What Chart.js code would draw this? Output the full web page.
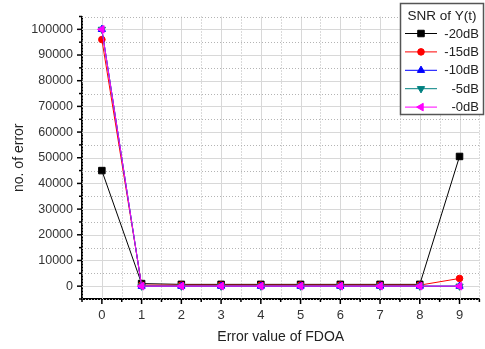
<!DOCTYPE html>
<html>
<head>
<meta charset="utf-8">
<script src="https://cdn.jsdelivr.net/npm/chart.js@4.4.0/dist/chart.umd.min.js"></script>
<style>
  html, body { margin: 0; padding: 0; background: #fff; }
  #wrap { width: 485px; height: 349px; }
</style>
</head>
<body>
<div id="wrap"><canvas id="errChart" width="485" height="349"></canvas></div>
<script>
// data
const fdoaErr = [0, 1, 2, 3, 4, 5, 6, 7, 8, 9];
const snrM20 = [45000, 1000, 700, 700, 700, 700, 700, 700, 700, 50500];
const snrM15 = [96000, 400, 400, 400, 400, 400, 400, 400, 400, 3000];
const snrM10 = [100000, 0, 0, 0, 0, 0, 0, 0, 0, 0];
const snrM5 = [100000, 0, 0, 0, 0, 0, 0, 0, 0, 0];
const snrM0 = [100000, 0, 0, 0, 0, 0, 0, 0, 0, 0];
const seriesNames = ['-20dB', '-15dB', '-10dB', '-5dB', '-0dB'];
const legendTitle = 'SNR of Y(t)';
const xTicks = [0, 1, 2, 3, 4, 5, 6, 7, 8, 9];
const yTicks = [0, 10000, 20000, 30000, 40000, 50000, 60000, 70000, 80000, 90000, 100000];

const FONT = '"Liberation Sans", Arial, sans-serif';

function pts(arr) {
    return arr.map((v, i) => ({ x: fdoaErr[i], y: v }));
}

function mkSet(label, values, color, style, rot, radius, order) {
    return {
        label: label,
        data: pts(values),
        borderColor: color,
        backgroundColor: color,
        borderWidth: 1,
        pointStyle: style,
        rotation: rot,
        pointRadius: radius,
        pointBorderWidth: 1,
        tension: 0,
        order: order
    };
}

const datasets = [
    mkSet(seriesNames[0], snrM20, '#000000', 'rect', 0, 4.6, 5),
    mkSet(seriesNames[1], snrM15, '#ff0000', 'circle', 0, 3.3, 4),
    mkSet(seriesNames[2], snrM10, '#0000ff', 'triangle', 0, 4.2, 3),
    mkSet(seriesNames[3], snrM5, '#008080', 'triangle', 180, 4.2, 2),
    mkSet(seriesNames[4], snrM0, '#ff00ff', 'triangle', -90, 4.4, 1)
];

// grid lines: solid at major steps, dotted at the halves
const gridPlugin = {
    id: 'originGrid',
    beforeDatasetsDraw(chart) {
        const { ctx, chartArea: a, scales } = chart;
        const xs = scales.x, ys = scales.y;
        ctx.save();
        ctx.lineWidth = 1;
        for (let v = -0.5; v <= 9.5; v += 0.5) {
            const px = Math.round(xs.getPixelForValue(v)) + 0.5;
            const major = Number.isInteger(v);
            ctx.strokeStyle = major ? '#d8d8d8' : '#b4b4b4';
            ctx.setLineDash(major ? [] : [1, 2]);
            ctx.beginPath();
            ctx.moveTo(px, a.top);
            ctx.lineTo(px, a.bottom);
            ctx.stroke();
        }
        for (let v = -5000; v <= 105000; v += 5000) {
            const py = Math.round(ys.getPixelForValue(v)) + 0.5;
            const major = v % 10000 === 0;
            ctx.strokeStyle = major ? '#d8d8d8' : '#b4b4b4';
            ctx.setLineDash(major ? [] : [1, 2]);
            ctx.beginPath();
            ctx.moveTo(a.left, py);
            ctx.lineTo(a.right, py);
            ctx.stroke();
        }
        ctx.restore();
    },
    afterDraw(chart) {
        const { ctx, chartArea: a, scales } = chart;
        const xs = scales.x, ys = scales.y;
        ctx.save();
        ctx.strokeStyle = '#000';
        ctx.lineWidth = 1.5;
        for (let v = -0.5; v <= 9.5; v += 0.5) {
            const px = xs.getPixelForValue(v);
            const len = Number.isInteger(v) ? 5 : 3;
            ctx.beginPath();
            ctx.moveTo(px, a.bottom);
            ctx.lineTo(px, a.bottom + len);
            ctx.stroke();
        }
        for (let v = -5000; v <= 105000; v += 5000) {
            const py = ys.getPixelForValue(v);
            const len = v % 10000 === 0 ? 5 : 3;
            ctx.beginPath();
            ctx.moveTo(a.left, py);
            ctx.lineTo(a.left - len, py);
            ctx.stroke();
        }
        ctx.restore();
    }
};

// legend box in the top right corner
const legendPlugin = {
    id: 'boxLegend',
    afterDraw(chart) {
        const ctx = chart.ctx;
        const bx = 400.5, by = 3.5, bw = 83, bh = 111;
        ctx.save();
        ctx.fillStyle = '#fff';
        ctx.fillRect(bx, by, bw, bh);
        ctx.strokeStyle = '#555';
        ctx.lineWidth = 1.5;
        ctx.strokeRect(bx, by, bw, bh);

        ctx.fillStyle = '#222';
        ctx.font = '13.5px ' + FONT;
        ctx.textBaseline = 'middle';
        ctx.textAlign = 'center';
        ctx.fillText(legendTitle, bx + bw / 2, by + 12.5);

        ctx.textAlign = 'right';
        ctx.font = '13px ' + FONT;
        chart.data.datasets.forEach((ds, i) => {
            const y = 33.5 + i * 18.4;
            ctx.strokeStyle = ds.borderColor;
            ctx.fillStyle = ds.backgroundColor;
            ctx.lineWidth = 1;
            ctx.beginPath();
            ctx.moveTo(405, y);
            ctx.lineTo(437, y);
            ctx.stroke();
            Chart.helpers.drawPoint(ctx, {
                pointStyle: ds.pointStyle,
                rotation: ds.rotation,
                radius: ds.pointRadius,
                borderWidth: 1
            }, 421, y);
            ctx.fillStyle = '#222';
            ctx.fillText(ds.label, 479, y + 0.5);
        });
        ctx.restore();
    }
};

new Chart(document.getElementById('errChart'), {
    type: 'line',
    data: { datasets: datasets },
    options: {
        responsive: false,
        animation: false,
        devicePixelRatio: 1,
        layout: { padding: { top: 3, right: 3, left: 0, bottom: 0 } },
        plugins: {
            legend: { display: false },
            tooltip: { enabled: false }
        },
        scales: {
            x: {
                type: 'linear',
                min: -0.5,
                max: 9.5,
                afterBuildTicks: s => { s.ticks = xTicks.map(v => ({ value: v })); },
                afterFit: s => { s.height = 50; },
                grid: { display: false, drawTicks: false },
                border: { display: true, color: '#000', width: 2 },
                ticks: { color: '#333', padding: 9, font: { family: FONT, size: 13 } },
                title: {
                    display: true,
                    text: 'Error value of FDOA',
                    color: '#222',
                    font: { family: FONT, size: 14 },
                    padding: { top: 0, bottom: 3 }
                }
            },
            y: {
                type: 'linear',
                min: -5000,
                max: 105000,
                afterBuildTicks: s => { s.ticks = yTicks.map(v => ({ value: v })); },
                afterFit: s => { s.width = 82; },
                grid: { display: false, drawTicks: false },
                border: { display: true, color: '#000', width: 2 },
                ticks: {
                    color: '#333',
                    padding: 9,
                    font: { family: FONT, size: 12.5 },
                    callback: v => String(v)
                },
                title: {
                    display: true,
                    text: 'no. of error',
                    color: '#222',
                    font: { family: FONT, size: 14 },
                    padding: { top: 11, bottom: 0 }
                }
            }
        }
    },
    plugins: [gridPlugin, legendPlugin]
});
</script>
</body>
</html>
